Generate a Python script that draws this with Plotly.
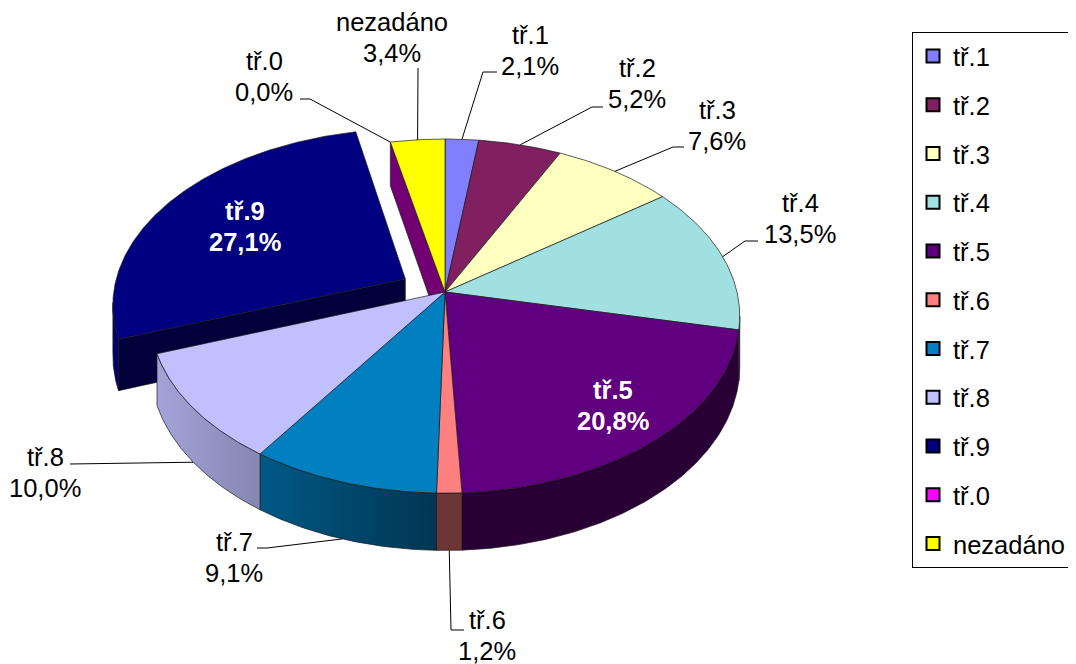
import numpy as np
import plotly.graph_objects as go

# ---------------- data ----------------
categories = ["tř.1", "tř.2", "tř.3", "tř.4", "tř.5", "tř.6", "tř.7", "tř.8", "tř.9", "tř.0", "nezadáno"]
values = [2.1, 5.2, 7.6, 13.5, 20.8, 1.2, 9.1, 10.0, 27.1, 0.0, 3.4]
colors = ["#8080FF", "#802060", "#FFFFC0", "#A0E0E0", "#600080", "#FF8080",
          "#0080C0", "#C0C0FF", "#000080", "#FF00FF", "#FFFF00"]
explode = [0, 0, 0, 0, 0, 0, 0, 0, 0.157, 0, 0]
inside_labels = ["tř.5", "tř.9"]

# ---------------- layout / geometry constants ----------------
W, H = 1076, 664
OFF = 8                        # page body margin: data units == window pixels
CX, CY = 445.0, 292.0          # centre of the pie (top face)
RX, RY = 292.0, 173.8          # radii of the projected circle
PERSP = 0.136                  # perspective factor
DEPTH = 49.5                   # thickness of the pie
FONT = "Liberation Sans, Arial, sans-serif"
FSIZE = 25.5
EDGE = "#1a1a1a"

# label block centres and leader path (start, optional elbow) per category
label_layout = {
    "tř.1": dict(pos=(530, 50), lead=[(497, 72), (483, 72)]),
    "tř.2": dict(pos=(637, 83), lead=[(603, 107), (592, 107)]),
    "tř.3": dict(pos=(717, 125), lead=[(684, 147), (673, 147)]),
    "tř.4": dict(pos=(800, 218), lead=[(758, 241), (745, 241)]),
    "tř.5": dict(pos=(613, 405), lead=None),
    "tř.6": dict(pos=(487, 635), lead=[(464, 630), (451, 630)]),
    "tř.7": dict(pos=(234, 557), lead=[(257, 548), (267, 548)]),
    "tř.8": dict(pos=(45, 472), lead=[(70, 464)]),
    "tř.9": dict(pos=(245, 226), lead=None),
    "tř.0": dict(pos=(264, 76), lead=[(300, 99), (310, 99)]),
    "nezadáno": dict(pos=(392, 37), lead=[(418, 68)]),
}


def proj(X, Z, h=0.0):
    den = 1.0 + PERSP * np.asarray(Z)
    x = CX + RX * np.asarray(X) / den
    y = CY - RY * np.asarray(Z) / den + h * DEPTH / den
    return x, y


def arc(a0, a1, ox, oz, h, step=0.5):
    n = max(2, int(abs(a1 - a0) / step) + 1)
    ang = np.radians(np.linspace(a0, a1, n))
    return proj(ox + np.sin(ang), oz + np.cos(ang), h)


def shade(hexcol, f):
    hexcol = hexcol.lstrip("#")
    r, g, b = (int(hexcol[i:i + 2], 16) for i in (0, 2, 4))
    return "rgb(%d,%d,%d)" % (round(r * f), round(g * f), round(b * f))


def light(x):
    return float(np.clip(0.85 - (x - 160.0) * 0.43 / 280.0, 0.42, 0.85))


fig = go.Figure()


def poly(xs, ys, fillcolor=None, grad=None):
    xs = list(xs) + [xs[0]]
    ys = list(ys) + [ys[0]]
    kw = dict(x=xs, y=ys, mode="lines", fill="toself",
              line=dict(color=EDGE, width=0.7),
              hoverinfo="skip", showlegend=False)
    if grad is not None:
        kw["fillgradient"] = grad
    else:
        kw["fillcolor"] = fillcolor
    fig.add_trace(go.Scatter(**kw))


# angular extents
total = float(sum(values))
cum = np.concatenate([[0.0], np.cumsum(values)]) / total * 360.0
starts, ends = cum[:-1], cum[1:]
mids = (starts + ends) / 2
offsets = [(e * np.sin(np.radians(m)), e * np.cos(np.radians(m))) for e, m in zip(explode, mids)]
sil = np.degrees(np.arccos(-PERSP))  # silhouette angle


def outer_wall(i):
    a0, a1 = starts[i], ends[i]
    b0, b1 = max(a0, sil), min(a1, 360 - sil)
    if b1 - b0 <= 0.05:
        return
    ox, oz = offsets[i]
    xt, yt = arc(b0, b1, ox, oz, 0)
    xb, yb = arc(b1, b0, ox, oz, 1)
    xs = np.concatenate([xt, xb])
    ys = np.concatenate([yt, yb])
    grad = dict(type="horizontal",
                colorscale=[[0, shade(colors[i], light(xs.min()))],
                            [1, shade(colors[i], light(xs.max()))]])
    poly(xs, ys, grad=grad)


def radial_wall(i, ang):
    ox, oz = offsets[i]
    a = np.radians(ang)
    x0, y0 = proj(ox, oz, 0)
    x1, y1 = proj(ox + np.sin(a), oz + np.cos(a), 0)
    x2, y2 = proj(ox + np.sin(a), oz + np.cos(a), 1)
    x3, y3 = proj(ox, oz, 1)
    poly([x0, x1, x2, x3], [y0, y1, y2, y3], fillcolor=shade(colors[i], 0.45))


def top_face(i):
    if ends[i] - starts[i] <= 0:
        return
    ox, oz = offsets[i]
    ax, ay = proj(ox, oz, 0)
    xt, yt = arc(starts[i], ends[i], ox, oz, 0)
    poly(np.concatenate([[ax], xt]), np.concatenate([[ay], yt]), fillcolor=colors[i])


n = len(values)
exp_idx = [i for i in range(n) if explode[i] > 0]
main_idx = [i for i in range(n) if explode[i] == 0]

# exploded slices first (they sit behind the main pie on screen)
for i in exp_idx:
    if np.sin(np.radians(starts[i])) < 0:
        radial_wall(i, starts[i])
    if np.sin(np.radians(ends[i])) > 0:
        radial_wall(i, ends[i])
    outer_wall(i)
    top_face(i)

# radial walls of the main pie exposed by the gap
for i in main_idx:
    if explode[(i - 1) % n] > 0 and np.sin(np.radians(starts[i])) < 0:
        radial_wall(i, starts[i])
    if explode[(i + 1) % n] > 0 and np.sin(np.radians(ends[i])) > 0:
        radial_wall(i, ends[i])
for i in main_idx:
    outer_wall(i)
for i in main_idx:
    top_face(i)

# ---------------- labels & leader lines ----------------
annotations = []
for i, cat in enumerate(categories):
    txt = ("%.1f%%" % values[i]).replace(".", ",")
    lay = label_layout[cat]
    px, py = lay["pos"]
    inside = cat in inside_labels
    fnt = dict(family=FONT, size=FSIZE, color="white" if inside else "black")
    for j, t in enumerate([cat, txt]):
        annotations.append(dict(x=px, y=py + (j - 0.5) * 31, text=("<b>%s</b>" % t) if inside else t,
                                xref="x", yref="y", showarrow=False, font=fnt,
                                xanchor="center", yanchor="middle"))
    if lay["lead"]:
        ox, oz = offsets[i]
        m = np.radians(mids[i])
        front = np.cos(m) < 0 and sil <= mids[i] <= 360 - sil
        rx_, ry_ = proj(ox + np.sin(m), oz + np.cos(m), 1 if front else 0)
        pts = list(lay["lead"]) + [(float(rx_), float(ry_))]
        fig.add_trace(go.Scatter(x=[p[0] for p in pts], y=[p[1] for p in pts], mode="lines",
                                 line=dict(color="black", width=1), hoverinfo="skip",
                                 showlegend=False))

# ---------------- legend entries ----------------
for i, cat in enumerate(categories):
    fig.add_trace(go.Scatter(x=[None], y=[None], mode="markers", name=cat, legendgroup=cat,
                             marker=dict(symbol="square", size=13, color=colors[i],
                                         line=dict(color="black", width=2)),
                             showlegend=True))

fig.update_layout(
    width=W, height=H,
    margin=dict(l=0, r=0, t=0, b=0, autoexpand=False),
    paper_bgcolor="white", plot_bgcolor="white",
    xaxis=dict(range=[OFF, W + OFF], visible=False, fixedrange=True),
    yaxis=dict(range=[H + OFF, OFF], visible=False, fixedrange=True),
    annotations=annotations,
    showlegend=True,
    legend=dict(x=(912 - OFF) / W, y=1 - (32 - OFF) / H, xanchor="left", yanchor="top",
                bordercolor="black", borderwidth=1, bgcolor="white",
                font=dict(family=FONT, size=FSIZE, color="black"),
                tracegroupgap=12.6, itemsizing="trace",
                entrywidth=150, entrywidthmode="pixels"),
)

fig.write_html("out.html")
